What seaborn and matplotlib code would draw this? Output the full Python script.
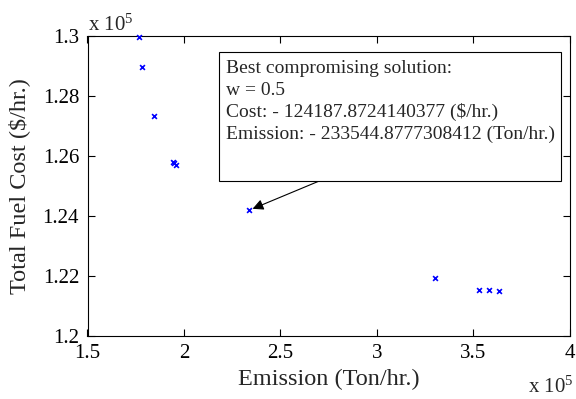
import matplotlib
matplotlib.use("Agg")
import matplotlib.pyplot as plt
import seaborn as sns
import pandas as pd
from matplotlib.ticker import FuncFormatter
from matplotlib.patches import Rectangle

# Pareto front points (values in units of 1e5)
emission = [1.767, 1.781, 1.843, 1.943, 1.950, 1.957, 2.3354, 3.302, 3.530, 3.582, 3.632]
cost = [1.2998, 1.2898, 1.2734, 1.2581, 1.2577, 1.2570, 1.24187, 1.2194, 1.2152, 1.2152, 1.2149]

x_ticks = [1.5, 2, 2.5, 3, 3.5, 4]
y_ticks = [1.2, 1.22, 1.24, 1.26, 1.28, 1.3]

best_x, best_y = 2.3354, 1.24187
note_lines = ["Best compromising solution:", "w = 0.5",
              "Cost: - 124187.8724140377 ($/hr.)",
              "Emission: - 233544.8777308412 (Ton/hr.)"]

sns.set_theme(style="white")
plt.rcParams["font.family"] = ["Liberation Serif", "DejaVu Serif"]
plt.rcParams["mathtext.fontset"] = "custom"
plt.rcParams["mathtext.rm"] = "Liberation Serif"
plt.rcParams["mathtext.it"] = "Liberation Serif"

fs_note = 14
fs_tick = 15
fs_label = 17.5
W, H = 576, 399
fig = plt.figure(figsize=(5.76, 3.99), dpi=100)
ax = fig.add_axes([87.5 / W, 63 / H, (570 - 87.5) / W, 300 / H])

df = pd.DataFrame({"Emission": emission, "Cost": cost})
sns.scatterplot(data=df, x="Emission", y="Cost", marker="x", color="#0000ff",
                s=12, linewidth=1.2, ax=ax, zorder=3, clip_on=False)

ax.set_xlim(1.5, 4)
ax.set_ylim(1.2, 1.3)
ax.set_xticks(x_ticks)
ax.set_yticks(y_ticks)
ax.xaxis.set_major_formatter(FuncFormatter(lambda v, p: f"{v:g}"))
ax.yaxis.set_major_formatter(FuncFormatter(lambda v, p: f"{v:g}"))
ax.tick_params(direction="in", length=5, width=0.8, top=True, right=True,
               bottom=True, left=True, labelsize=fs_tick, colors="black", pad=6)
ax.tick_params(axis="x", pad=6)
for sp in ax.spines.values():
    sp.set_visible(True)
    sp.set_color("black")
    sp.set_linewidth(0.8)

ax.set_xlabel("Emission (Ton/hr.)", fontsize=fs_label, labelpad=4)
ax.set_ylabel("Total Fuel Cost ($/hr.)", fontsize=fs_label, labelpad=9)

fig.text(88 / W, 1 - 31 / H, r"x 10$^{5}$", fontsize=fs_tick, ha="left", va="baseline")
fig.text(528 / W, 1 - 393 / H, r"x 10$^{5}$", fontsize=fs_tick, ha="left", va="baseline")

# annotation box
fig.patches.append(Rectangle((219.3 / W, 1 - 180.7 / H), (560.7 - 219.3) / W,
                             (180.7 - 51.7) / H, transform=fig.transFigure,
                             fc="white", ec="black", lw=0.8, zorder=4))
for i, line in enumerate(note_lines):
    fig.text(226.5 / W, 1 - (73.3 + 21.8 * i) / H, line, fontsize=fs_note,
             ha="left", va="baseline", zorder=5)
ax.annotate("", xy=(best_x, best_y), xycoords="data",
            xytext=(320 / W, 1 - 180.7 / H), textcoords="figure fraction",
            arrowprops=dict(arrowstyle="-|>", color="black", lw=0.8,
                            mutation_scale=16, shrinkA=0, shrinkB=3))

fig.savefig("out.png", dpi=100)
